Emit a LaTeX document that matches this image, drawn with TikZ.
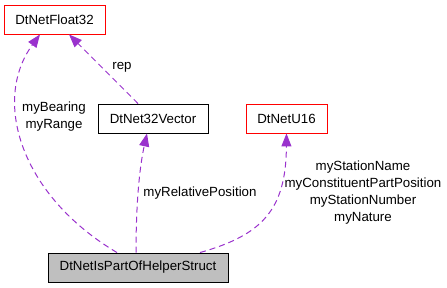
\documentclass[tikz,border=0pt]{standalone}
\usepackage{fontspec}
\setmainfont{Liberation Sans}
\usetikzlibrary{arrows.meta}
\definecolor{edgecol}{HTML}{9A32CD}
\definecolor{boxgray}{HTML}{BFBFBF}
\tikzset{
  cls/.style={draw,line width=0.9pt,minimum height=29pt,inner sep=0pt,font=\fontsize{13.3}{17}\selectfont},
  redcls/.style={cls,draw=red},
  use/.style={draw=edgecol,line width=1pt,dash pattern=on 6pt off 4pt,
    -{Triangle[length=13pt,width=10pt,fill=edgecol,sep=0pt]},shorten >=0pt},
  lbl/.style={align=center,inner sep=0pt,font=\fontsize{13.3}{17}\selectfont}
}
\begin{document}
\begin{tikzpicture}[x=1pt,y=-1pt]
\useasboundingbox(0,0)rectangle(447,288);
% classes
\node[redcls,minimum width=101pt](f32)at(54.5,19.5){DtNetFloat32};
\node[cls,minimum width=110pt](vec)at(153,118.5){DtNet32Vector};
\node[redcls,minimum width=81pt](u16)at(286.5,118.5){DtNetU16};
\node[cls,fill=boxgray,minimum width=180pt](help)at(138,267.5){DtNetIsPartOfHelperStruct};
% members
\draw[use]([xshift=-21pt]help.north)..controls(20,195)and(-8,100)..([xshift=-14.5pt]f32.south);
\draw[use]([xshift=-15pt]vec.north)--([xshift=14.5pt]f32.south);
\draw[use]([xshift=-2pt]help.north)..controls(136,200)and(140,165)..([xshift=-6pt]vec.south);
\draw[use]([xshift=62pt]help.north)..controls(262,235)and(286,210)..(u16.south);
% labels
\node[lbl](lbr)at(54,117){myBearing\\myRange};
\node[lbl](lrep)at(122,67){rep};
\node[lbl](lpos)at(200,193){myRelativePosition};
\node[lbl](lsta)at(363,193){myStationName\\myConstituentPartPosition\\myStationNumber\\myNature};
\end{tikzpicture}
\end{document}
